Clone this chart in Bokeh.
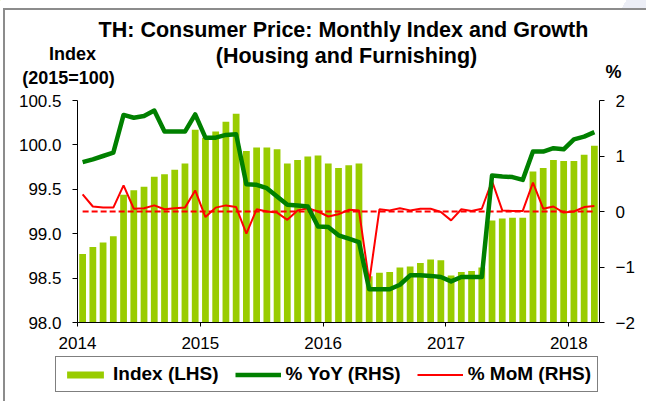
import numpy as np
from bokeh.plotting import figure
from bokeh.models import (Range1d, LinearAxis, FixedTicker, Legend, LegendItem, Label,
                          NumeralTickFormatter, ColumnDataSource)
from bokeh.embed import file_html
from bokeh.resources import INLINE

# ---------------- data ----------------
years = ["2014", "2015", "2016", "2017", "2018"]

index_lhs = [
    98.77, 98.85, 98.90, 98.97, 99.44, 99.49, 99.53, 99.64, 99.67, 99.72, 99.79, 100.17,
    100.08, 100.15, 100.26, 100.35, 99.93, 99.97, 99.97, 99.95, 99.79, 99.83, 99.87, 99.88,
    99.79, 99.74, 99.77, 99.79, 98.52, 98.56, 98.57, 98.62, 98.63, 98.67, 98.71, 98.70,
    98.53, 98.57, 98.58, 98.62, 99.15, 99.17, 99.18, 99.18, 99.70, 99.74, 99.83, 99.82,
    99.82, 99.89, 99.99,
]

yoy_rhs = [
    0.89, 0.94, 1.00, 1.06, 1.74, 1.69, 1.72, 1.82, 1.44, 1.44, 1.44, 1.75,
    1.33, 1.33, 1.38, 1.39, 0.49, 0.48, 0.42, 0.27, 0.12, 0.11, 0.09, -0.27,
    -0.28, -0.43, -0.49, -0.55, -1.40, -1.40, -1.40, -1.32, -1.15, -1.15, -1.16, -1.18,
    -1.26, -1.18, -1.18, -1.18, 0.65, 0.63, 0.62, 0.57, 1.08, 1.08, 1.14, 1.12,
    1.30, 1.35, 1.43,
]

mom_rhs = [
    0.31, 0.09, 0.07, 0.07, 0.47, 0.05, 0.06, 0.11, 0.04, 0.06, 0.07, 0.38,
    -0.10, 0.07, 0.11, 0.08, -0.40, 0.04, 0.00, -0.02, -0.15, 0.02, 0.06, 0.00,
    -0.09, -0.05, 0.03, 0.02, -1.27, 0.04, 0.02, 0.06, 0.02, 0.05, 0.05, -0.01,
    -0.16, 0.04, 0.01, 0.05, 0.55, 0.02, 0.01, 0.01, 0.52, 0.05, 0.09, -0.02,
    0.00, 0.08, 0.10,
]

mom_ref = 0.0

left_ticks = [98.0, 98.5, 99.0, 99.5, 100.0, 100.5]
right_ticks = [-2, -1, 0, 1, 2]

series_names = ["Index (LHS)", "% YoY (RHS)", "% MoM (RHS)"]
title_lines = ["TH: Consumer Price: Monthly Index and Growth", "(Housing and Furnishing)"]
left_unit = ["Index", "(2015=100)"]
right_unit = "%"

# ---------------- layout ----------------
W, H = 646, 401
FL, FR, FT, FB = 77, 599, 100, 322
n = len(index_lhs)
XMIN, XMAX = 0, n
YMIN, YMAX = 98.0, 100.5

BAR_COLOR = "#99CC00"
YOY_COLOR = "#008000"
MOM_COLOR = "#FF0000"
FONT = "Liberation Sans"

x = np.arange(n) + 0.5
src = ColumnDataSource(dict(x=x, idx=index_lhs, yoy=yoy_rhs, mom=mom_rhs))

# ---------------- main chart ----------------
p = figure(width=W, height=H, output_backend="svg", toolbar_location=None, title=None,
           x_range=Range1d(XMIN, XMAX), y_range=Range1d(YMIN, YMAX),
           min_border_left=FL, min_border_right=W - FR,
           min_border_top=FT, min_border_bottom=H - FB)
p.extra_y_ranges = {"pct": Range1d(right_ticks[0], right_ticks[-1])}
p.outline_line_color = None
p.xgrid.visible = False
p.ygrid.visible = False
p.background_fill_color = "white"
p.border_fill_color = None
# outer frame lines (left and top) and the pale corner swoosh, painted behind the canvas
p.styles = {
    "background": "linear-gradient(#8c8c8c,#8c8c8c) 3px 8px / 2px 100% no-repeat, "
                  "linear-gradient(#8c8c8c,#8c8c8c) 3px 8px / 100% 2px no-repeat, "
                  "linear-gradient(120deg, transparent 60%, #eceef6 60%) 590px 0px / 56px 8px no-repeat, "
                  "white"
}

def style_axis(ax, tick_out=5, standoff=11):
    ax.axis_line_color = "black"
    ax.axis_line_width = 1
    ax.major_tick_line_color = "black"
    ax.major_tick_in = 0
    ax.major_tick_out = tick_out
    ax.minor_tick_line_color = None
    ax.major_label_text_font = FONT
    ax.major_label_text_font_size = "17px"
    ax.major_label_text_color = "black"
    ax.major_label_standoff = standoff

xa = p.xaxis[0]
xa.ticker = FixedTicker(ticks=[12 * i for i in range(len(years))])
xa.major_label_overrides = {12 * i: y for i, y in enumerate(years)}
style_axis(xa, tick_out=4, standoff=10)

ya = p.yaxis[0]
ya.ticker = FixedTicker(ticks=left_ticks)
ya.formatter = NumeralTickFormatter(format="0.0")
style_axis(ya, tick_out=5, standoff=11)

ra = LinearAxis(y_range_name="pct")
ra.ticker = FixedTicker(ticks=right_ticks)
style_axis(ra, tick_out=5, standoff=11)
p.add_layout(ra, "right")

p.vbar(x="x", top="idx", bottom=YMIN, width=0.66, fill_color=BAR_COLOR,
       line_color=None, source=src)
p.line(x=[x[0], x[-1]], y=[mom_ref, mom_ref], y_range_name="pct",
       line_color=MOM_COLOR, line_width=2, line_dash="6 3")
p.line("x", "mom", y_range_name="pct", line_color=MOM_COLOR, line_width=2, source=src)
p.line("x", "yoy", y_range_name="pct", line_color=YOY_COLOR, line_width=4.5,
       line_join="round", source=src)

# ---------------- text layer (transparent, laid over the chart in pixel units) ----------------
q = figure(width=W, height=H, output_backend="svg", toolbar_location=None, title=None,
           x_range=Range1d(0, W), y_range=Range1d(H, 0),
           x_axis_type=None, y_axis_type=None, min_border=0)
q.outline_line_color = None
q.xgrid.visible = False
q.ygrid.visible = False
q.background_fill_color = None
q.border_fill_color = None
q.styles = {"position": "absolute", "left": "0px", "top": "0px"}

def add_text(text, px, py, size, align="center"):
    q.add_layout(Label(x=px, y=py, text=text, text_align=align,
                       text_baseline="alphabetic", text_font=FONT,
                       text_font_size=size, text_font_style="bold",
                       text_color="black"))

add_text(title_lines[0], 343, 29, "21.5px")
add_text(title_lines[1], 346, 55, "21.5px")
add_text(left_unit[0], 72, 53.5, "18px")
add_text(left_unit[1], 68, 77, "18px")
add_text(right_unit, 613, 71.5, "18px")

# legend keys (styled like the chart's series; their own points sit off-canvas)
off = ColumnDataSource(dict(x=[-200, -190], y=[-200, -200], top=[-200, -200]))
k_bar = q.vbar(x="x", top="top", bottom=-300, width=1, fill_color=BAR_COLOR,
               line_color=None, source=off)
k_yoy = q.line("x", "y", line_color=YOY_COLOR, line_width=4.5, source=off)
k_mom = q.line("x", "y", line_color=MOM_COLOR, line_width=2, source=off)

legend = Legend(items=[
    LegendItem(label=series_names[0], renderers=[k_bar]),
    LegendItem(label=series_names[1], renderers=[k_yoy]),
    LegendItem(label=series_names[2], renderers=[k_mom]),
], orientation="horizontal", location=(55, H - 392))
legend.label_text_font = FONT
legend.label_text_font_style = "bold"
legend.label_text_font_size = "19px"
legend.label_text_color = "black"
legend.border_line_color = "black"
legend.border_line_width = 1
legend.background_fill_color = "white"
legend.background_fill_alpha = 1
legend.padding = 6
legend.margin = 0
legend.spacing = 16
legend.glyph_width = 46
legend.glyph_height = 9
legend.label_height = 18
legend.label_standoff = 5
q.add_layout(legend, "center")

open("out.html", "w").write(file_html([p, q], INLINE))
